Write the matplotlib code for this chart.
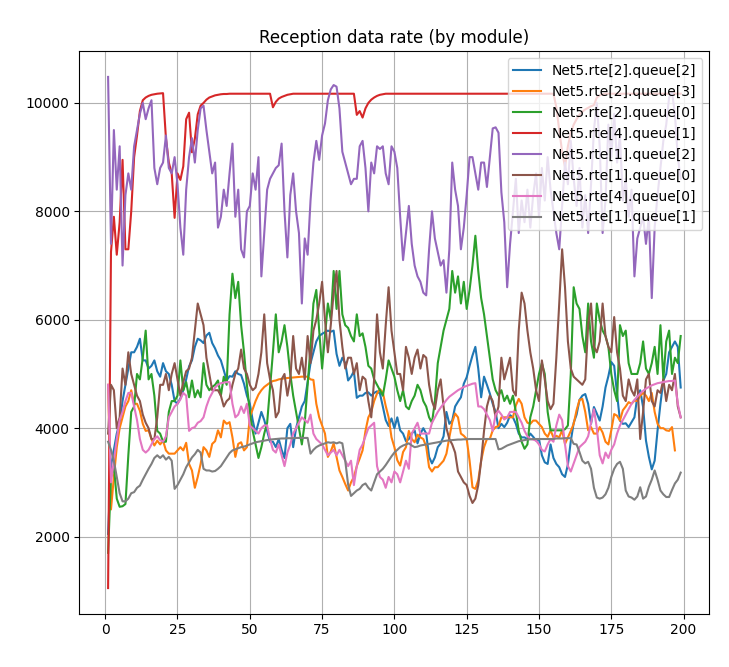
import matplotlib
matplotlib.use("Agg")
import matplotlib.pyplot as plt

labels = ["Net5.rte[2].queue[2]", "Net5.rte[2].queue[3]", "Net5.rte[2].queue[0]",
          "Net5.rte[4].queue[1]", "Net5.rte[1].queue[2]", "Net5.rte[1].queue[0]",
          "Net5.rte[4].queue[0]", "Net5.rte[1].queue[1]"]

rte2_q2 = [
    2050, 3300, 3600, 3900, 4100, 4500, 4800, 5100, 5400, 5400,
    5500, 5650, 5250, 5250, 5100, 5150, 5250, 5050, 4950, 5200,
    5050, 5000, 4800, 4500, 4450, 4550, 4700, 4900, 5140, 5250,
    5500, 5650, 5620, 5570, 5710, 5760, 5570, 5470, 5340, 5250,
    5070, 4880, 4960, 4950, 5050, 5000, 4980, 4820, 4600, 4450,
    4150, 3900, 4100, 4300, 4150, 3950, 3750, 3750, 3650, 3800,
    3600, 3450, 4000, 4080, 3650, 4000, 4200, 4400, 4500, 4850,
    5200, 5400, 5600, 5700, 5740, 5770, 5800, 5780, 5800, 5370,
    5150, 5300, 5200, 4880, 4950, 5050, 4560, 4600, 4600, 4650,
    4660, 4600, 4650, 4680, 4640, 4400, 4150, 4040, 4180, 4000,
    4200, 3960, 3900, 3760, 3800, 3900, 3960, 3720, 3900, 4000,
    3900, 3470, 3350, 3460, 3650, 3720, 3850, 4300, 4080, 4140,
    4400, 4490, 4570, 4820, 4940, 5150, 5340, 5500, 5100, 4570,
    4950, 4800, 4640, 4450, 4300, 4000, 4080, 4020, 4100, 4240,
    4200, 4080, 3900, 3830, 3830, 3800, 3900, 3840, 3770, 3800,
    3500, 3370, 3340, 3700, 3450, 3340, 3280, 3150, 3100, 3330,
    3760, 4100, 4250, 4520, 4600, 4630, 4450, 4080, 4390, 4270,
    4140, 4400, 4750, 4960, 5220, 5150, 4630, 4140, 4080, 4090,
    4020, 4110, 4200, 4580, 4700, 4390, 3770, 3470, 3240, 3400,
    3960, 4450, 4880, 5000, 5400, 5500, 5600, 5500, 4750]

rte2_q3 = [
    4800, 2500, 3100, 3650, 4000, 4200, 4400, 4500, 4700, 4450,
    4450, 4320, 4080, 3950, 3960, 3800, 3680, 3770, 3700, 3770,
    3590, 3530, 3530, 3530, 3590, 3650, 3590, 3730, 3340, 3220,
    2900, 3100, 3340, 3650, 3590, 3470, 3710, 3760, 3960, 3830,
    4140, 4080, 4110, 3830, 3470, 3710, 3740, 3590, 3650, 4200,
    4350, 4500, 4620, 4700, 4760, 4800, 4840, 4870, 4880, 4900,
    4910, 4920, 4925, 4930, 4935, 4940, 4945, 4950, 4950, 4950,
    4900, 4890, 4450, 4200, 4050, 3900, 3470, 3570, 3720, 3470,
    3220, 3100, 2970, 2850, 3000, 3100, 3300, 3440, 3590, 3950,
    4200, 4300, 4500, 4640, 4720, 4660, 4410, 4200, 3830, 3650,
    3410, 3310, 3560, 3650, 3950, 3800, 3740, 3880, 3830, 3800,
    3660, 3280, 3200, 3280, 3280, 3340, 3400, 3530, 3830, 4110,
    4270, 4200, 3900, 3860, 3800, 3400, 2910, 2880, 3040, 3400,
    3650, 3800, 3800, 3960, 4020, 4040, 4200, 4200, 4200, 4200,
    4200, 4420, 4540, 4450, 4200, 4100, 4080, 4140, 4140, 4080,
    4020, 3900, 3840, 3960, 3830, 3860, 3830, 3960, 3710, 3830,
    3950, 4080, 4330, 4520, 4540, 4300, 3960, 4020, 3900, 3900,
    4020, 3920, 3750, 3700, 3960, 4260, 4230, 4140, 4330, 4400,
    4480, 4450, 4510, 4500, 4600, 4650, 4600, 4500, 4650, 4300,
    4080, 4000, 4000, 3960, 3950, 4020, 3590]

rte2_q0 = [
    1700, 3100, 3300, 2700, 2550, 2560, 2600, 3500, 4300, 4400,
    5000, 4900, 5300, 5800, 4900, 5000, 4600, 3950, 3900, 3750,
    3750, 4300, 4500, 4500, 4600, 5250, 4700, 4850, 4570, 4880,
    4570, 4700, 4570, 5200, 4800, 4700, 4760, 4800, 4880, 4600,
    4950, 4800, 6100, 6850, 6400, 6700, 5900, 5400, 4800, 4300,
    3950, 3700, 3450, 3650, 3900, 4100, 4750, 5400, 6100, 5400,
    5600, 5900, 5500, 5000, 4600, 4300, 4000, 3700, 4100, 4800,
    5500, 6300, 6550, 5800, 5100, 5700, 6300, 6000, 6900, 6200,
    6900, 6100, 5900, 5850, 5700, 5600, 6100, 5700, 5750, 5500,
    5150, 5100, 4900, 4800, 4700, 4600, 4900, 5250, 5100, 4950,
    4700, 4500, 4700, 4400, 4350, 4500, 4600, 4800, 4700, 4500,
    4400, 4200, 4100, 4500, 5200, 5500, 5800, 6000, 6200, 6900,
    6500, 6800, 6300, 6700, 6200, 6550, 7000, 7550, 6900, 6400,
    6100, 5700, 5300, 4900, 4700, 4600, 4700, 4500, 4600, 4450,
    4600, 4300, 3950, 3750, 3620, 3700, 4200, 4400, 4700, 5000,
    5200, 5000, 4300, 3960, 3960, 3960, 3960, 3960, 3980, 4050,
    5000, 6600, 6300, 6200, 5700, 5400, 6300, 5600, 5300, 6300,
    6000, 5800, 5700, 5500, 5000, 4700, 4500, 5900, 5700, 5800,
    5200, 5000, 5000, 5000, 5200, 5600, 5100, 5000, 5200, 5500,
    5000, 5900, 4900, 5600, 5800, 5000, 5300, 5200, 5700]

rte4_q1 = [
    1050, 7250, 7900, 7200, 7800, 8950, 7300, 7300, 8000, 9000,
    9400, 9850, 10050, 10100, 10130, 10150, 10160, 10170, 10175, 10180,
    9350, 8900, 8700, 7880, 8700, 8580, 8830, 9700, 9820, 9090,
    9340, 9790, 9950, 10000, 10060, 10100, 10120, 10140, 10150, 10160,
    10165, 10165, 10170, 10170, 10170, 10170, 10170, 10170, 10170, 10170,
    10170, 10170, 10170, 10170, 10170, 10170, 10170, 9920, 10020, 10080,
    10110, 10130, 10150, 10160, 10170, 10170, 10170, 10170, 10170, 10170,
    10170, 10170, 10170, 10170, 10170, 10170, 10170, 10170, 10170, 10170,
    10170, 10170, 10170, 10170, 10170, 10170, 9780, 9850, 9730, 9900,
    10000, 10060, 10100, 10130, 10150, 10160, 10170, 10170, 10170, 10170,
    10170, 10170, 10170, 10170, 10170, 10170, 10170, 10170, 10170, 10170,
    10170, 10170, 10170, 10170, 10170, 10170, 10170, 10170, 10170, 10170,
    10170, 10170, 10170, 10170, 10170, 10170, 10170, 10170, 10170, 10170,
    10170, 10170, 10170, 10170, 10170, 10170, 10170, 10170, 10170, 10170,
    10170, 10170, 10170, 10170, 10170, 10170, 10170, 10170, 10170, 10170,
    10170, 10170, 10170, 10170, 10170, 9920, 9500, 9100, 8820, 9200,
    9450, 9600, 9700, 9780, 9840, 9880, 9910, 9940, 9960, 10100,
    10140, 10160, 10170, 10170, 10170, 10170, 10170, 10170, 10170, 10170,
    10170, 10170, 10170, 10170, 10170, 10170, 10170, 10170, 10170, 10170,
    10170, 10170, 10170, 10170, 10170, 10170, 10170, 10170, 10170]

rte1_q2 = [
    10480, 7400, 9500, 8400, 9200, 7000, 8300, 8700, 8400, 9200,
    9500, 9800, 10000, 9700, 9900, 10050, 8800, 8500, 8800, 8900,
    9400, 8800, 8700, 9000, 8500, 7700, 7200, 8400, 9000, 9350,
    8900, 9500, 9900, 9950, 9500, 9100, 8700, 8900, 7700, 7900,
    8400, 8100, 8700, 9250, 7900, 8400, 7300, 7150, 8000, 8100,
    8700, 8400, 9000, 6800, 7600, 8400, 8600, 8700, 8800, 8850,
    9250, 8000, 7150, 8300, 8700, 8000, 7600, 6300, 7500, 7200,
    8200, 8900, 9300, 8950, 9400, 9620, 10050, 10250, 10330, 10300,
    9900, 9100, 8900, 8700, 8500, 8600, 8600, 9200, 9300, 8800,
    8000, 8900, 8700, 9200, 9150, 9200, 8700, 8500, 9200, 9100,
    8800, 7900, 7100, 7600, 8100, 7400, 7000, 6800, 6700, 6500,
    6450, 7300, 8000, 7500, 7250, 7000, 7100, 6500, 7300, 8900,
    8400, 8100, 7300, 7700, 8300, 9000, 9000, 8700, 8400, 8900,
    8900, 8450, 9000, 9530, 9550, 9450, 8350, 7800, 6600, 7400,
    8000, 8600, 7600, 8200, 7800, 8400, 7700, 8300, 8700, 7900,
    8800, 8200, 9000, 8400, 8000, 7600, 7300, 8100, 8900, 8500,
    9300, 8600, 8100, 8800, 7700, 8300, 7600, 8500, 9500, 10000,
    9200, 7600, 8200, 9600, 9000, 9800, 8900, 9400, 8200, 8600,
    7900, 8400, 6800, 7500, 7700, 7900, 7400, 7900, 6400, 7700,
    8300, 8800, 9300, 9600, 10100, 10200, 9800, 9000, 8600]

rte1_q0 = [
    3900, 4800, 4700, 4000, 4200, 5100, 4800, 5400, 5000, 4800,
    4600, 4500, 4250, 4100, 4000, 3800, 3800, 4200, 4800, 4800,
    5000, 4700, 5000, 5200, 4900, 4600, 4850, 5050, 5100, 5300,
    5800, 6300, 6100, 5900, 5300, 5000, 4700, 4700, 4700, 4600,
    4400, 4500, 4550, 4800, 5000, 5100, 5450, 5100, 5000, 4800,
    4700, 4750, 5000, 5400, 6100, 5200, 4900, 4700, 4200, 4300,
    4900, 5000, 4600, 4900, 5700, 5100, 5000, 5300, 4900, 5700,
    5200, 5800, 6000, 6300, 6700, 6000, 5400, 5900, 6500, 6900,
    6000, 5500, 5100, 5300, 5300, 5000, 5200, 4700, 4950, 4900,
    4500, 4200, 4900, 6100, 5400, 5100, 5900, 6600, 5800, 5400,
    5000, 5000, 4700, 5500, 5300, 5000, 5300, 5450, 5100, 5350,
    5300, 4800, 4500, 4350, 4700, 4900, 4400, 4000, 3800, 3700,
    3550, 3200, 3100, 3000, 2950, 2750, 2620, 2700, 2950, 3400,
    3950, 4400, 4600, 4500, 4200, 4400, 5300, 4900, 5100, 5300,
    4700, 4600, 5800, 6500, 6300, 5800, 5400, 5100, 4700, 4500,
    5250, 4900, 4500, 4350, 4450, 5300, 6300, 7300, 6600, 5600,
    5100, 4950, 4900, 4850, 4800, 4900, 5900, 6300, 5500, 5400,
    5600, 6300, 5700, 5500, 5400, 6050, 5400, 5100, 4600, 4500,
    4900, 4700, 4600, 4900, 3800, 4300, 4900, 5000, 4500, 4400,
    4700, 4650, 4900, 4500, 4800, 4700, 5000, 4400, 4200]

rte4_q0 = [
    4800, 3000, 3400, 3800, 4150, 4300, 4500, 4650, 4650, 4400,
    4150, 3800, 3600, 3550, 3600, 3700, 3800, 3850, 3780, 3750,
    3850, 4200, 4300, 4400, 4450, 4530, 4650, 4600, 3950, 4000,
    4020, 4100, 4130, 4200, 4400, 4550, 4650, 4750, 4800, 4830,
    4840, 4850, 4850, 4450, 4200, 4250, 4400, 4280, 4450, 4050,
    4000, 3950, 3900, 4000, 4050, 4050, 3800, 3600, 3550, 3700,
    3500, 3300, 3550, 3700, 3900, 4000, 4100, 4200, 4150, 4100,
    4250, 3900, 3800, 3750, 3700, 3600, 3500, 3550, 3600, 3500,
    3600, 3500, 3400, 3300, 3400, 2950, 3300, 3600, 3700, 3850,
    4000, 4050, 4100, 3300, 3100, 3050, 2900, 3100, 3000, 3200,
    3150, 3000, 3200, 3400, 3250, 3900, 4000, 4100, 3900, 3900,
    3900, 3900, 4100, 4200, 4300, 4380, 4450, 4520, 4580, 4620,
    4660, 4700, 4730, 4760, 4780, 4800, 4820, 4830, 4400, 4400,
    4350, 4250, 4150, 3950, 4250, 4320, 4250, 4160, 4200, 4300,
    4300, 4300, 4200, 4100, 3950, 3850, 3800, 3790, 3770, 3700,
    3600, 3570, 3700, 3800, 3750, 4050, 4250, 4150, 3700, 3300,
    3200, 3350, 3500, 3650, 3700, 3750, 3850, 4100, 4350, 4000,
    3500, 3350, 3550, 3450, 3600, 3700, 3900, 4050, 4150, 4250,
    4350, 4450, 4520, 4580, 4640, 4690, 4730, 4760, 4790, 4810,
    4830, 4840, 4850, 4860, 4870, 4870, 4880, 4450, 4200]

rte1_q1 = [
    3750, 3600, 3400, 3100, 2800, 2650, 2650, 2700, 2800, 2820,
    2900, 2940, 3050, 3150, 3250, 3340, 3450, 3500, 3450, 3500,
    3420, 3470, 3400, 2880, 2950, 3050, 3150, 3280, 3370, 3460,
    3520, 3600, 3550, 3250, 3220, 3220, 3200, 3210, 3250, 3300,
    3380, 3460, 3540, 3590, 3610, 3630, 3650, 3660, 3680, 3700,
    3720, 3740, 3750, 3760, 3770, 3780, 3790, 3795, 3800, 3805,
    3810, 3810, 3815, 3815, 3815, 3820, 3820, 3820, 3820, 3820,
    3530, 3600, 3650, 3680, 3700, 3720, 3740, 3730, 3740, 3720,
    3740, 3720, 3400, 2960, 2750, 2800, 2850, 2880, 2950, 2980,
    2900, 2850, 3000, 3150, 3200, 3250, 3320, 3400, 3480, 3550,
    3600, 3650, 3680, 3700, 3720, 3680, 3650, 3660, 3680, 3690,
    3700, 3710, 3720, 3730, 3740, 3750, 3760, 3770, 3775, 3780,
    3785, 3790, 3790, 3795, 3795, 3800, 3800, 3800, 3800, 3800,
    3800, 3800, 3800, 3800, 3800, 3610, 3620, 3650, 3680, 3700,
    3720, 3740, 3760, 3770, 3780, 3790, 3795, 3800, 3800, 3800,
    3800, 3800, 3800, 3800, 3800, 3810, 3810, 3810, 3815, 3815,
    3815, 3710, 3700, 3560, 3400, 3350, 3380, 3250, 2900, 2720,
    2700, 2720, 2780, 2900, 3100, 3250, 3340, 3380, 3250, 2850,
    2740, 2720, 2680, 2740, 2910, 2700, 2740, 2920, 3050, 3220,
    3050, 2850, 2780, 2730, 2730, 2860, 2980, 3050, 3180]

series = [rte2_q2, rte2_q3, rte2_q0, rte4_q1, rte1_q2, rte1_q0, rte4_q0, rte1_q1]

fig = plt.figure(figsize=(7.29, 6.67), dpi=100)
ax = fig.add_subplot(111)
fig.subplots_adjust(left=0.109, right=0.973, bottom=0.080, top=0.923)

for lab, ys in zip(labels, series):
    xs = list(range(1, len(ys) + 1))
    ax.plot(xs, ys, label=lab)

ax.set_title("Reception data rate (by module)")
ax.grid(True)
ax.legend(loc="upper right")

fig.savefig("out.png", dpi=100)
